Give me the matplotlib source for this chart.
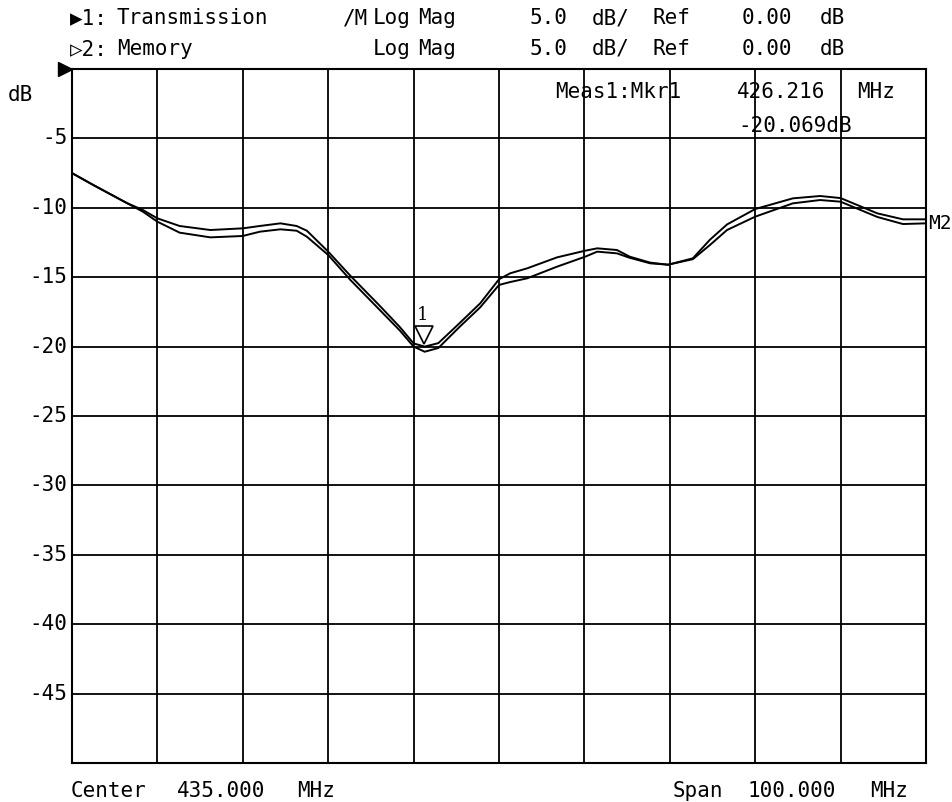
import matplotlib
matplotlib.use("Agg")
import matplotlib.pyplot as plt
import matplotlib.transforms as mtransforms

# ---- data ----
freq_mhz = [385.0, 387.5, 391.4, 393.3, 395.0, 397.6, 401.2, 405.0, 407.0, 409.4,
            411.3, 412.5, 415.0, 417.6, 421.1, 423.4, 425.0, 426.3, 427.9, 430.4,
            432.8, 435.0, 436.3, 438.3, 441.8, 445.1, 446.5, 448.8, 450.3, 452.7,
            454.8, 457.7, 459.7, 461.7, 465.0, 469.4, 472.6, 475.0, 479.3, 482.3, 485.0]
trace_transmission = [-7.5, -8.36, -9.65, -10.16, -10.76, -11.31, -11.6, -11.48, -11.31, -11.12,
                      -11.31, -11.65, -13.16, -14.9, -17.1, -18.6, -19.77, -20.0, -19.75, -18.3,
                      -16.88, -15.15, -14.72, -14.36, -13.57, -13.09, -12.92, -13.04, -13.52, -13.95,
                      -14.1, -13.64, -12.3, -11.2, -10.09, -9.32, -9.15, -9.3, -10.4, -10.83, -10.83]
trace_memory = [-7.5, -8.36, -9.65, -10.28, -11.0, -11.79, -12.13, -12.03, -11.72, -11.55,
                -11.65, -12.08, -13.4, -15.2, -17.4, -18.85, -20.0, -20.37, -20.1, -18.57,
                -17.17, -15.56, -15.35, -15.08, -14.24, -13.52, -13.16, -13.28, -13.6, -14.0,
                -14.1, -13.7, -12.68, -11.6, -10.64, -9.68, -9.44, -9.56, -10.66, -11.17, -11.12]
center_mhz = 435.0
span_mhz = 100.0
ref_db = 0.0
scale_db = 5.0
marker_freq = 426.216
marker_db = -20.069
y_ticks = [-5, -10, -15, -20, -25, -30, -35, -40, -45]

W, H = 953, 802
fig = plt.figure(figsize=(W / 100, H / 100), dpi=100)
left_px, right_px, top_px, bottom_px = 72, 926, 69, 763
ax = fig.add_axes([left_px / W, 1 - bottom_px / H, (right_px - left_px) / W, (bottom_px - top_px) / H])

f0 = center_mhz - span_mhz / 2
f1 = center_mhz + span_mhz / 2
ax.set_xlim(f0, f1)
ax.set_ylim(ref_db - 10 * scale_db, ref_db)

for i in range(1, 10):
    ax.axvline(f0 + i * span_mhz / 10, color="black", lw=1.3, zorder=1)
for i in range(1, 10):
    ax.axhline(ref_db - i * scale_db, color="black", lw=1.3, zorder=1)
for s in ax.spines.values():
    s.set_linewidth(1.5)
    s.set_color("black")
ax.set_xticks([])
ax.set_yticks([])

ax.plot(freq_mhz, trace_transmission, color="black", lw=1.4, zorder=3)
ax.plot(freq_mhz, trace_memory, color="black", lw=1.4, zorder=3)

mono = ["DejaVu Sans Mono", "DejaVu Sans"]
fs = 15

def ftext(x, y, s, **kw):
    kw.setdefault("fontsize", fs)
    kw.setdefault("family", mono)
    kw.setdefault("ha", "left")
    kw.setdefault("va", "baseline")
    fig.text(x / W, 1 - y / H, s, color="black", **kw)

# y tick labels
for v in y_ticks:
    ax.text(-0.005, v, str(v), transform=ax.get_yaxis_transform(), ha="right", va="center",
            fontsize=fs, family=mono, color="black")
ftext(8, 101, "dB")

# header
ftext(70, 24, "\u25B61:")
ftext(117, 24, "Transmission")
ftext(343, 24, "/M")
ftext(70, 55, "\u25B72:")
ftext(117, 55, "Memory")
for y in (24, 55):
    ftext(373, y, "Log")
    ftext(418, y, "Mag")
    ftext(530, y, "5.0")
    ftext(592, y, "dB/")
    ftext(652, y, "Ref")
    ftext(742, y, "0.00")
    ftext(820, y, "dB")

# marker readout
ftext(555, 98, "Meas1:Mkr1")
ftext(737, 98, "426.216")
ftext(857, 98, "MHz")
ftext(738, 132, "-20.069dB")

# footer
ftext(71, 797, "Center")
ftext(177, 797, "435.000")
ftext(297, 797, "MHz")
ftext(673, 797, "Span")
ftext(748, 797, "100.000")
ftext(870, 797, "MHz")

# reference-level pointer
tr = mtransforms.offset_copy(ax.transData, fig=fig, x=-5, y=0, units="points")
ax.plot([f0], [ref_db], marker=">", ms=10, color="black", transform=tr, clip_on=False, zorder=5)

# marker 1 triangle
tr2 = mtransforms.offset_copy(ax.transData, fig=fig, x=0, y=9, units="points")
ax.plot([marker_freq], [marker_db], marker="v", ms=13, mfc="white", mec="black", mew=1.2,
        transform=tr2, clip_on=False, zorder=6, ls="none")
tr3 = mtransforms.offset_copy(ax.transData, fig=fig, x=-5, y=17, units="points")
ax.text(marker_freq, marker_db, "1", transform=tr3, fontsize=13, family="DejaVu Serif",
        ha="left", va="bottom", color="black")

# M2 label at right end of trace
ax.text(1.002, trace_memory[-1], "M2", transform=ax.get_yaxis_transform(), ha="left", va="center",
        fontsize=14, family=mono, color="black")

fig.savefig("out.png", dpi=100, facecolor="white")
